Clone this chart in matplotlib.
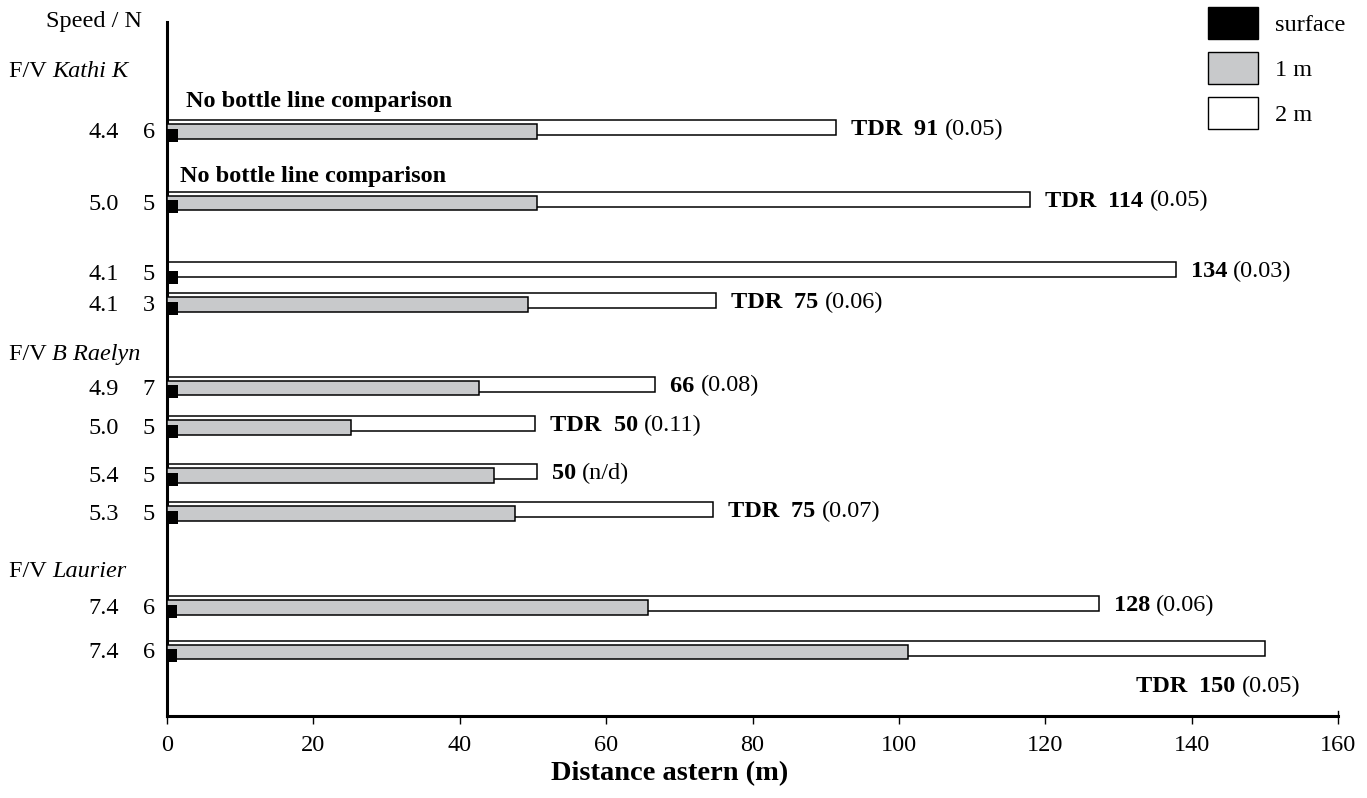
import numpy as np
import matplotlib
matplotlib.use("Agg")
import matplotlib.pyplot as plt
from matplotlib.patches import Patch
from matplotlib.transforms import blended_transform_factory

# ---------------- data ----------------
speeds = ["4.4", "5.0", "4.1", "4.1", "4.9", "5.0", "5.4", "5.3", "7.4", "7.4"]
n_obs = ["6", "5", "5", "3", "7", "5", "5", "5", "6", "6"]
dist_2m = [91.4, 117.9, 137.8, 75.0, 66.7, 50.3, 50.5, 74.6, 127.3, 150.0]
dist_1m = [50.6, 50.5, np.nan, 49.3, 42.6, 25.1, 44.7, 47.5, 65.7, 101.2]
dist_surface = [1.5, 1.5, 1.5, 1.5, 1.5, 1.5, 1.5, 1.5, 1.3, 1.3]
tdr_flag = [True, True, False, True, False, True, False, True, False, True]
label_value = ["91", "114", "134", "75", "66", "50", "50", "75", "128", "150"]
label_cv = ["(0.05)", "(0.05)", "(0.03)", "(0.06)", "(0.08)", "(0.11)", "(n/d)", "(0.07)", "(0.06)", "(0.05)"]
vessels = ["Kathi K", "B Raelyn", "Laurier"]
legend_labels = ["surface", "1 m", "2 m"]
xticks = [0, 20, 40, 60, 80, 100, 120, 140, 160]

# ---------------- layout (pixel-like y coordinates) ----------------
row_top = [120, 191.5, 262, 293, 376.5, 416, 464, 502, 596, 640.5]
vessel_y = [77, 360, 577]
FS = 17.5
GRAY = "#c8c9cb"
PX = 0.72  # points per pixel at 100 dpi

plt.rcParams["font.family"] = ["Liberation Serif", "DejaVu Serif"]

fig = plt.figure(figsize=(13.67, 7.98), dpi=100)
W, H = 1367, 798
ax = fig.add_axes([167 / W, 1 - 716 / H, (1338 - 167) / W, (716 - 22) / H])
ax.set_xlim(0, 160)
ax.set_ylim(716, 22)

T = np.array(row_top)
ax.barh(T + 7.5, dist_2m, height=15, left=0, color="white", edgecolor="black", linewidth=1.1, zorder=2)
d1 = np.array(dist_1m)
m = ~np.isnan(d1)
ax.barh((T + 11.25)[m], d1[m], height=14.5, left=0, color=GRAY, edgecolor="black", linewidth=1.1, zorder=3)
ax.barh(T + 15, dist_surface, height=13, left=0, color="black", edgecolor="black", linewidth=0, zorder=4)

# right-hand labels
for i in range(len(T)):
    if i == len(T) - 1:
        x0, y0, dx = dist_2m[i], T[i] + 52, -129 * PX
    else:
        x0, y0, dx = dist_2m[i], T[i] + 15, 15 * PX
    pieces = []
    if tdr_flag[i]:
        pieces.append(("TDR  ", "bold"))
    pieces.append((label_value[i] + " ", "bold"))
    pieces.append((label_cv[i], "normal"))
    t = ax.annotate(pieces[0][0], xy=(x0, y0), xytext=(dx, 0), textcoords="offset points",
                    fontsize=FS, fontweight=pieces[0][1], va="baseline", ha="left", zorder=5)
    for txt, wgt in pieces[1:]:
        t = ax.annotate(txt, xy=(1, 0), xycoords=t, va="bottom", ha="left",
                        fontsize=FS, fontweight=wgt)

# no bottle line comparison
ax.annotate("No bottle line comparison", xy=(0, 107), xytext=(19 * PX, 0), textcoords="offset points",
            fontsize=FS, fontweight="bold", ha="left", va="baseline")
ax.annotate("No bottle line comparison", xy=(0, 182), xytext=(13 * PX, 0), textcoords="offset points",
            fontsize=FS, fontweight="bold", ha="left", va="baseline")

# left labels
tr = blended_transform_factory(fig.transFigure, ax.transData)
for i in range(len(T)):
    ax.text(119 / W, T[i] + 18, speeds[i], transform=tr, ha="right", va="baseline", fontsize=FS, clip_on=False)
    ax.text(155 / W, T[i] + 18, n_obs[i], transform=tr, ha="right", va="baseline", fontsize=FS, clip_on=False)

ax.text(142 / W, 27, "Speed / N", transform=tr, ha="right", va="baseline", fontsize=FS, clip_on=False)
for v, y in zip(vessels, vessel_y):
    t = ax.text(9 / W, y, "F/V ", transform=tr, ha="left", va="baseline", fontsize=FS, clip_on=False)
    ax.annotate(v, xy=(1, 0), xycoords=t, va="bottom", ha="left", fontsize=FS, fontstyle="italic")

# axes styling
for s in ["top", "right"]:
    ax.spines[s].set_visible(False)
ax.spines["left"].set_linewidth(2.2)
ax.spines["bottom"].set_linewidth(2.2)
ax.set_yticks([])
ax.set_xticks(xticks)
ax.set_xticklabels([str(v) for v in xticks], fontsize=FS)
ax.tick_params(axis="x", direction="out", length=6, width=1, pad=8)
ax.plot([160, 160], [711, 716], color="black", lw=1, clip_on=False)

fig.text(670 / W, 1 - 774 / H, "Distance astern (m)", ha="center", va="center", fontsize=20.5, fontweight="bold")

handles = [Patch(facecolor="black", edgecolor="black", linewidth=1),
           Patch(facecolor=GRAY, edgecolor="black", linewidth=1),
           Patch(facecolor="white", edgecolor="black", linewidth=1)]
fig.legend(handles, legend_labels, loc="upper left", bbox_to_anchor=(1208 / W, 1 - 7 / H),
           frameon=False, fontsize=FS, handlelength=2.05, handleheight=1.65, labelspacing=0.54,
           handletextpad=0.7, borderpad=0, borderaxespad=0)

fig.savefig("out.png", dpi=100)
